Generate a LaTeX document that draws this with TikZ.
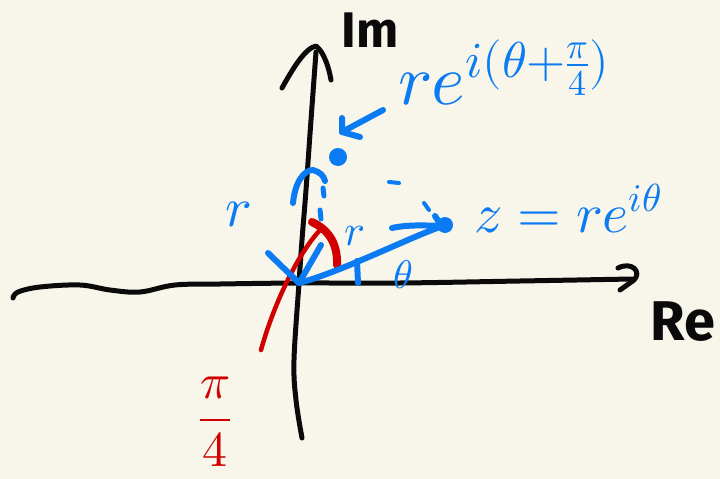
\documentclass[tikz,border=0pt]{standalone}
\usepackage{fontspec}
\usepackage{unicode-math}
\setsansfont{Fira Sans}
\setmathfont{Latin Modern Math}
\usetikzlibrary{arrows.meta,positioning,calc}
\definecolor{PaperCream}{HTML}{F8F6EA}
\definecolor{PenBlue}{HTML}{0A7BF2}
\definecolor{PenRed}{HTML}{D00000}
\definecolor{PenBlack}{HTML}{0A0A0A}

\begin{document}
\begin{tikzpicture}[x=1pt,y=-1pt,line cap=round,line join=round]
    \tikzset{
      axis/.style={draw=PenBlack,line width=5pt},
      bluepen/.style={draw=PenBlue,line width=6pt},
      redpen/.style={draw=PenRed,line width=4.5pt},
      bluelabel/.style={text=PenBlue,inner sep=0pt},
      blacklabel/.style={text=PenBlack,inner sep=0pt,font=\sffamily\bfseries\fontsize{50}{56}\selectfont},
      blob/.style={circle,fill=PenBlue,inner sep=0pt,minimum size=#1}
    }
    \fill[PaperCream] (0,0) rectangle (720,479);
    \useasboundingbox (0,0) rectangle (720,479);
    % points
    \coordinate (O) at (299,283);
    \coordinate (reW) at (13,298);
    \coordinate (reE) at (632,279);
    \coordinate (imS) at (302,438);
    \coordinate (imN) at (316,52);
    \node[blob=16pt] (z) at (445,225) {};
    \node[blob=18pt] (w) at (338,157) {};
    % axes
    \draw[axis] plot[smooth,tension=0.6] coordinates {(reW) (18,292) (40,287) (80,285) (110,290) (140,292) (175,285) (220,284) (O) (400,283) (520,281) (reE)};
    \draw[axis] (618,268) .. controls (632,261) and (642,272) .. (634,280) -- (620,290);
    \draw[axis] plot[smooth,tension=0.6] coordinates {(imS) (296,400) (294,360) (O) (302,240) (306,190) (311,120) (imN)};
    \draw[axis] (282,88) .. controls (292,70) and (305,48) .. (316,46) .. controls (324,52) and (329,68) .. (331,80);
    \node[blacklabel] (im) at (370,30) {Im};
    \node[blacklabel,font=\sffamily\bfseries\fontsize{56}{62}\selectfont] (re) at (683,322) {Re};
    % red angle pi/4
    \draw[redpen] (261,350) .. controls (275,300) and (300,250) .. (322,228);
    \draw[redpen,line width=8pt] (312,222) .. controls (325,228) and (338,240) .. (337,265);
    \node[text=PenRed,inner sep=0pt,font=\fontsize{50}{56}\selectfont] (quarter) at (215,422) {$\dfrac{\pi}{4}$};
    % z = re^{i theta}
    \draw[bluepen] (O) .. controls (340,272) and (400,242) .. (z);
    \draw[bluepen] (392,228) .. controls (410,224) and (430,226) .. (z);
    \draw[bluepen] (435,216) -- (439,222);
    \draw[bluepen] (268,253) -- (O) -- (321,245);
    \draw[bluepen] (357,261) -- (358,283);
    \node[bluelabel,font=\fontsize{40}{46}\selectfont] (theta) at (403,275) {$\theta$};
    \node[bluelabel,font=\fontsize{44}{50}\selectfont] (rsmall) at (355,236) {$r$};
    \node[bluelabel,font=\fontsize{56}{62}\selectfont,anchor=base west] (zlab) at (474,232) {$z = re^{i\theta}$};
    % rotated point
    \draw[bluepen,line width=4pt] (389,182) -- (399,183);
    \draw[bluepen,line width=4pt] (424,203) -- (429,210);
    \draw[bluepen] (293,203) .. controls (295,182) and (304,170) .. (313,170) .. controls (320,172) and (324,176) .. (325,181);
    \draw[bluepen,line width=5pt] (323,188) -- (324,196);
    \draw[bluepen,line width=5pt] (320,210) -- (321,219);
    \node[bluelabel,font=\fontsize{56}{62}\selectfont] (rbig) at (238,214) {$r$};
    \node[bluelabel,font=\fontsize{72}{78}\selectfont,anchor=base west] (wlab) at (398,104) {$re^{i(\theta+\frac{\pi}{4})}$};
    \coordinate (wtail) at (383,110);
    \coordinate (wtip) at (342,132);
    \draw[bluepen] (wtail) -- (wtip);
    \draw[bluepen] ($(wtip)+(0,-14)$) -- (wtip) -- ($(wtip)+(18,5)$);
\end{tikzpicture}
\end{document}
